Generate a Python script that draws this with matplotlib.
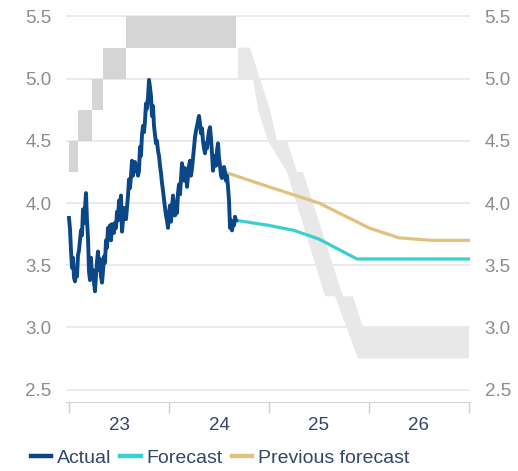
import numpy as np
import matplotlib
matplotlib.use("Agg")
import matplotlib.pyplot as plt

plt.rcParams['font.family'] = ['Liberation Sans', 'DejaVu Sans']

# actual 10y yield (decimal years, %)
act_dates = [2023.000, 2023.010, 2023.020, 2023.030, 2023.040, 2023.050, 2023.060, 2023.070, 2023.080, 2023.090,
             2023.100, 2023.110, 2023.120, 2023.130, 2023.140, 2023.150, 2023.160, 2023.170, 2023.180, 2023.190,
             2023.200, 2023.210, 2023.220, 2023.230, 2023.240, 2023.250, 2023.260, 2023.270, 2023.280, 2023.290,
             2023.300, 2023.310, 2023.320, 2023.330, 2023.340, 2023.350, 2023.360, 2023.370, 2023.380, 2023.390,
             2023.400, 2023.410, 2023.420, 2023.430, 2023.440, 2023.450, 2023.460, 2023.470, 2023.480, 2023.490,
             2023.500, 2023.510, 2023.520, 2023.530, 2023.540, 2023.550, 2023.560, 2023.570, 2023.580, 2023.590,
             2023.600, 2023.610, 2023.620, 2023.630, 2023.640, 2023.650, 2023.660, 2023.670, 2023.680, 2023.690,
             2023.700, 2023.710, 2023.720, 2023.730, 2023.740, 2023.750, 2023.760, 2023.770, 2023.780, 2023.790,
             2023.800, 2023.810, 2023.820, 2023.830, 2023.840, 2023.850, 2023.860, 2023.870, 2023.880, 2023.890,
             2023.900, 2023.910, 2023.920, 2023.930, 2023.940, 2023.950, 2023.960, 2023.970, 2023.980, 2023.990,
             2024.000, 2024.010, 2024.020, 2024.030, 2024.040, 2024.050, 2024.060, 2024.070, 2024.080, 2024.090,
             2024.100, 2024.110, 2024.120, 2024.130, 2024.140, 2024.150, 2024.160, 2024.170, 2024.180, 2024.190,
             2024.200, 2024.210, 2024.220, 2024.230, 2024.240, 2024.250, 2024.260, 2024.270, 2024.280, 2024.290,
             2024.300, 2024.310, 2024.320, 2024.330, 2024.340, 2024.350, 2024.360, 2024.370, 2024.380, 2024.390,
             2024.400, 2024.410, 2024.420, 2024.430, 2024.440, 2024.450, 2024.460, 2024.470, 2024.480, 2024.490,
             2024.500, 2024.510, 2024.520, 2024.530, 2024.540, 2024.550, 2024.560, 2024.570, 2024.580, 2024.590,
             2024.600, 2024.610, 2024.620, 2024.630, 2024.640, 2024.650, 2024.660, 2024.670]
act_vals = [3.88, 3.79, 3.62, 3.48, 3.56, 3.40, 3.37, 3.44, 3.41, 3.58,
            3.62, 3.70, 3.78, 3.74, 3.95, 3.84, 3.96, 4.08, 3.86, 3.72,
            3.45, 3.38, 3.56, 3.40, 3.46, 3.36, 3.29, 3.42, 3.53, 3.61,
            3.46, 3.55, 3.41, 3.36, 3.45, 3.57, 3.52, 3.70, 3.64, 3.80,
            3.74, 3.82, 3.70, 3.83, 3.78, 3.76, 3.84, 3.80, 3.93, 3.86,
            4.02, 3.97, 4.06, 3.77, 3.86, 3.96, 3.90, 3.87, 3.96, 4.06,
            4.19, 4.12, 4.22, 4.34, 4.22, 4.27, 4.33, 4.26, 4.30, 4.22,
            4.26, 4.45, 4.38, 4.55, 4.62, 4.57, 4.66, 4.80, 4.76, 4.85,
            4.99, 4.93, 4.86, 4.70, 4.78, 4.62, 4.55, 4.48, 4.50, 4.42,
            4.38, 4.30, 4.24, 4.16, 4.10, 4.03, 3.96, 3.90, 3.86, 3.80,
            3.92, 3.98, 3.85, 3.95, 4.06, 4.00, 3.90, 3.96, 3.92, 4.08,
            4.15, 4.07, 4.20, 4.32, 4.24, 4.18, 4.28, 4.25, 4.13, 4.22,
            4.30, 4.34, 4.22, 4.28, 4.36, 4.45, 4.53, 4.58, 4.62, 4.66,
            4.70, 4.64, 4.56, 4.60, 4.50, 4.44, 4.40, 4.48, 4.44, 4.52,
            4.58, 4.61, 4.52, 4.40, 4.26, 4.34, 4.38, 4.30, 4.42, 4.48,
            4.36, 4.30, 4.22, 4.20, 4.26, 4.29, 4.25, 4.18, 4.22, 4.13,
            4.02, 3.80, 3.86, 3.78, 3.84, 3.82, 3.89, 3.86]

# forecasts
fc_dates = [2024.68, 2025.00, 2025.25, 2025.50, 2025.88, 2027.00]
fc_vals = [3.86, 3.82, 3.78, 3.71, 3.55, 3.55]
prev_dates = [2024.59, 2025.00, 2025.50, 2026.00, 2026.30, 2026.63, 2027.00]
prev_vals = [4.24, 4.13, 4.00, 3.80, 3.72, 3.70, 3.70]

# policy rate range (actual, step)
fed_dates = [2023.00, 2023.09, 2023.23, 2023.34, 2023.57, 2024.67]
fed_low = [4.25, 4.50, 4.75, 5.00, 5.25, 5.25]
fed_high = [4.50, 4.75, 5.00, 5.25, 5.50, 5.50]

# expected policy range
exp_up_dates = [2024.69, 2024.81, 2025.01, 2025.08, 2025.18, 2025.28, 2025.34, 2025.74, 2025.84, 2025.94, 2027.00]
exp_up_vals = [5.25, 5.25, 4.75, 4.50, 4.50, 4.25, 4.25, 3.25, 3.25, 3.00, 3.00]
exp_lo_dates = [2024.69, 2024.84, 2024.89, 2024.99, 2025.18, 2025.56, 2025.66, 2025.89, 2027.00]
exp_lo_vals = [5.00, 5.00, 4.75, 4.50, 4.25, 3.25, 3.25, 2.75, 2.75]

year_labels = ['23', '24', '25', '26']

fig = plt.figure(figsize=(5.18, 4.71), dpi=100)
ax = fig.add_axes([66 / 518, 1 - 402 / 471, 404 / 518, 388 / 471])

# bands
ax.fill_between(fed_dates, fed_low, fed_high, step='post', color='#d5d5d5', lw=0, zorder=1)
ax.fill(exp_up_dates + exp_lo_dates[::-1], exp_up_vals + exp_lo_vals[::-1],
        color='#e8e8e8', lw=0, zorder=1)

# lines
ax.plot(prev_dates, prev_vals, color='#dfc27c', lw=2.3, zorder=3, label='Previous forecast')
ax.plot(fc_dates, fc_vals, color='#3ccfcf', lw=2.3, zorder=3, label='Forecast')
ax.plot(act_dates, act_vals, color='#0b4686', lw=2.8, zorder=4, label='Actual')

ax.set_xlim(2022.97, 2027.01)
ax.set_ylim(2.4, 5.52)

ax.set_yticks([2.5, 3.0, 3.5, 4.0, 4.5, 5.0, 5.5])
ax.set_yticklabels(['%.1f' % v for v in [2.5, 3.0, 3.5, 4.0, 4.5, 5.0, 5.5]])
ax.yaxis.grid(True, color='#e6e6e6', lw=1.2, zorder=0)
ax.set_axisbelow(True)
ax.tick_params(axis='y', left=False, right=False, labelleft=True, labelright=True,
               labelsize=13.5, labelcolor='#8c8c8c', pad=7)

ax.set_xticks([2023, 2024, 2025, 2026, 2027])
ax.set_xticklabels([])
ax.set_xticks([2023.5, 2024.5, 2025.5, 2026.5], minor=True)
ax.set_xticklabels(year_labels, minor=True)
ax.tick_params(axis='x', which='major', length=8, color='#cfcfcf', width=1)
ax.tick_params(axis='x', which='minor', length=0, pad=11, labelsize=13.5, labelcolor='#34456a')

for s in ['left', 'right', 'top']:
    ax.spines[s].set_visible(False)
ax.spines['bottom'].set_color('#d5d5d5')

h, l = ax.get_legend_handles_labels()
order = [2, 1, 0]
fig.legend([h[i] for i in order], [l[i] for i in order], loc='center left',
           bbox_to_anchor=(31 / 518, 1 - 458 / 471), ncol=3, frameon=False,
           fontsize=14, labelcolor='#34456a', handlelength=1.05, handletextpad=0.3,
           columnspacing=0.45, borderpad=0, borderaxespad=0)
for line in fig.legends[0].get_lines():
    line.set_linewidth(3.2)

plt.savefig("out.png", dpi=100)
